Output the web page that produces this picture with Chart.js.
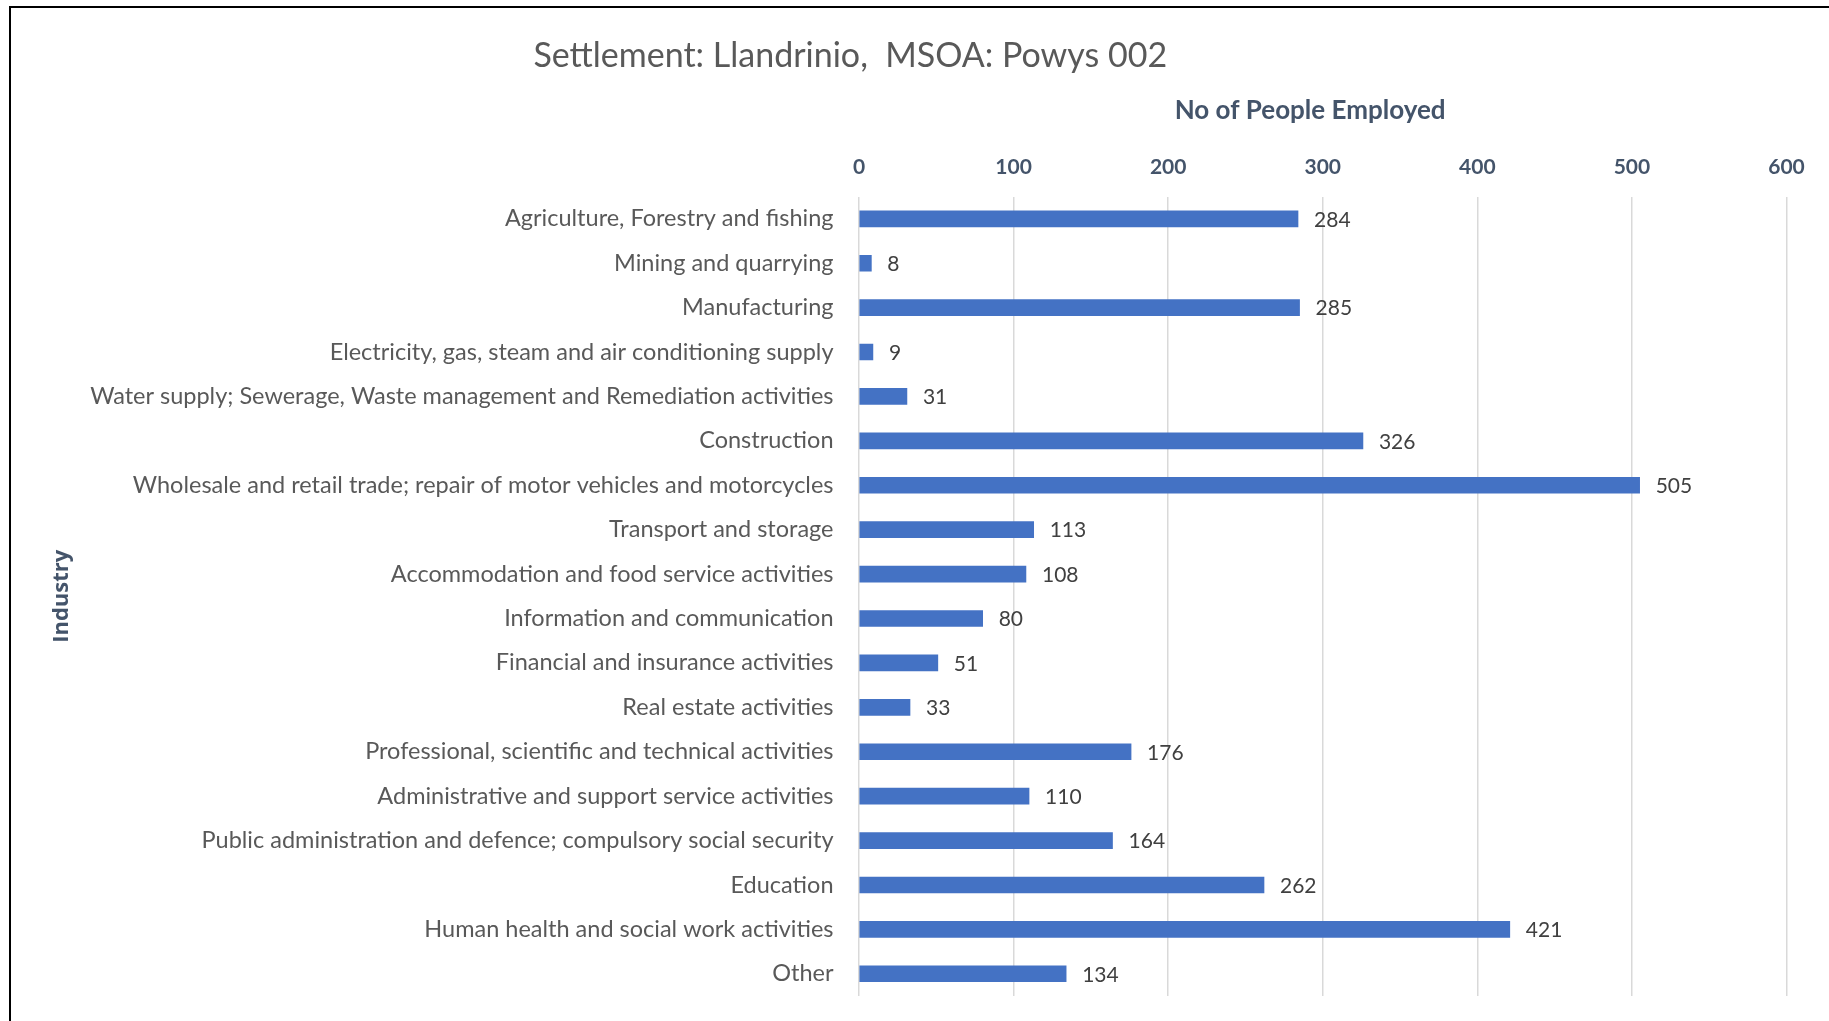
<!DOCTYPE html>
<html lang="en">
<head>
<meta charset="utf-8">
<title>Settlement: Llandrinio, MSOA: Powys 002</title>
<script src="https://cdn.jsdelivr.net/npm/chart.js@4.4.1/dist/chart.umd.min.js"></script>
<style>
  html, body { margin: 0; padding: 0; background: #fff; overflow: hidden; }
  .frame { position: absolute; left: 9px; top: 6px; right: -10px; bottom: -10px;
           border-top: 2px solid #000; border-left: 2px solid #000; }
  .chart-box { position: absolute; left: 0; top: 0; width: 1829px; height: 1021px; }
</style>
</head>
<body>
<div class="frame"></div>
<div class="chart-box"><canvas id="industryChart" width="1829" height="1021"></canvas></div>
<script>
// Data
const industries = [
    'Agriculture, Forestry and fishing',
    'Mining and quarrying',
    'Manufacturing',
    'Electricity, gas, steam and air conditioning supply',
    'Water supply; Sewerage, Waste management and Remediation activities',
    'Construction',
    'Wholesale and retail trade; repair of motor vehicles and motorcycles',
    'Transport and storage',
    'Accommodation and food service activities',
    'Information and communication',
    'Financial and insurance activities',
    'Real estate activities',
    'Professional, scientific and technical activities',
    'Administrative and support service activities',
    'Public administration and defence; compulsory social security',
    'Education',
    'Human health and social work activities',
    'Other'
];
const employed = [284, 8, 285, 9, 31, 326, 505, 113, 108, 80, 51, 33, 176, 110, 164, 262, 421, 134];
const employedTicks = [0, 100, 200, 300, 400, 500, 600];

const chartTitle = 'Settlement: Llandrinio,  MSOA: Powys 002';
const xTitle = 'No of People Employed';
const yTitle = 'Industry';

// Layout (pixels)
const padLeft = -86;
const plotLeft = 859;
const xAxisHeight = 101.5;

// Value labels at the end of each bar
const barValueLabels = {
    id: 'barValueLabels',
    afterDatasetsDraw(chart) {
        const ctx = chart.ctx;
        const meta = chart.getDatasetMeta(0);
        ctx.save();
        ctx.font = '21px Lato';
        ctx.fillStyle = '#404040';
        ctx.textAlign = 'left';
        ctx.textBaseline = 'middle';
        meta.data.forEach((bar, i) => {
            ctx.fillText(String(employed[i]), bar.x + 16, bar.y + 1);
        });
        ctx.restore();
    }
};

const ctx = document.getElementById('industryChart').getContext('2d');
const industryChart = new Chart(ctx, {
    type: 'bar',
    data: {
        labels: industries,
        datasets: [{
            label: xTitle,
            data: employed,
            backgroundColor: '#4472C4',
            barThickness: 16
        }]
    },
    options: {
        indexAxis: 'y',
        responsive: false,
        animation: false,
        layout: {
            padding: { left: padLeft, right: 42.5, top: 0, bottom: 25 }
        },
        plugins: {
            legend: { display: false },
            tooltip: { enabled: false },
            title: {
                display: true,
                text: chartTitle,
                color: '#595959',
                font: { family: 'Lato', size: 34, weight: 'normal', lineHeight: 1.2 },
                padding: { top: 35.6, bottom: 18.7 }
            }
        },
        scales: {
            x: {
                position: 'top',
                min: employedTicks[0],
                max: employedTicks[employedTicks.length - 1],
                afterBuildTicks: axis => {
                    axis.ticks = employedTicks.map(v => ({ value: v }));
                },
                afterFit: scale => { scale.height = xAxisHeight; },
                grid: { color: '#D9D9D9', lineWidth: 1.5, drawTicks: false },
                border: { display: false },
                ticks: {
                    color: '#44546A',
                    padding: 17,
                    font: { family: 'Lato', size: 21, weight: 'bold', lineHeight: 1.2 }
                },
                title: {
                    display: true,
                    text: xTitle + '\u00a0\u00a0\u00a0\u00a0',
                    color: '#44546A',
                    font: { family: 'Lato', size: 26, weight: 'bold', lineHeight: 1.2 },
                    padding: { top: 0, bottom: 0 }
                }
            },
            y: {
                afterFit: scale => {
                    scale.width = plotLeft - padLeft;
                    // labels may overflow the plot ends, as in the reference
                    scale.paddingTop = 0;
                    scale.paddingBottom = 0;
                },
                grid: { display: false, drawTicks: false },
                border: { display: false },
                ticks: {
                    autoSkip: false,
                    color: '#595959',
                    padding: 25.5,
                    font: { family: 'Lato', size: 23.5, lineHeight: 1.2 }
                },
                title: {
                    display: true,
                    text: yTitle,
                    color: '#44546A',
                    font: { family: 'Open Sans', size: 22, weight: 'bold', lineHeight: 1.2 },
                    padding: { top: 134.7, bottom: 0 }
                }
            }
        }
    },
    plugins: [barValueLabels]
});
</script>
</body>
</html>
